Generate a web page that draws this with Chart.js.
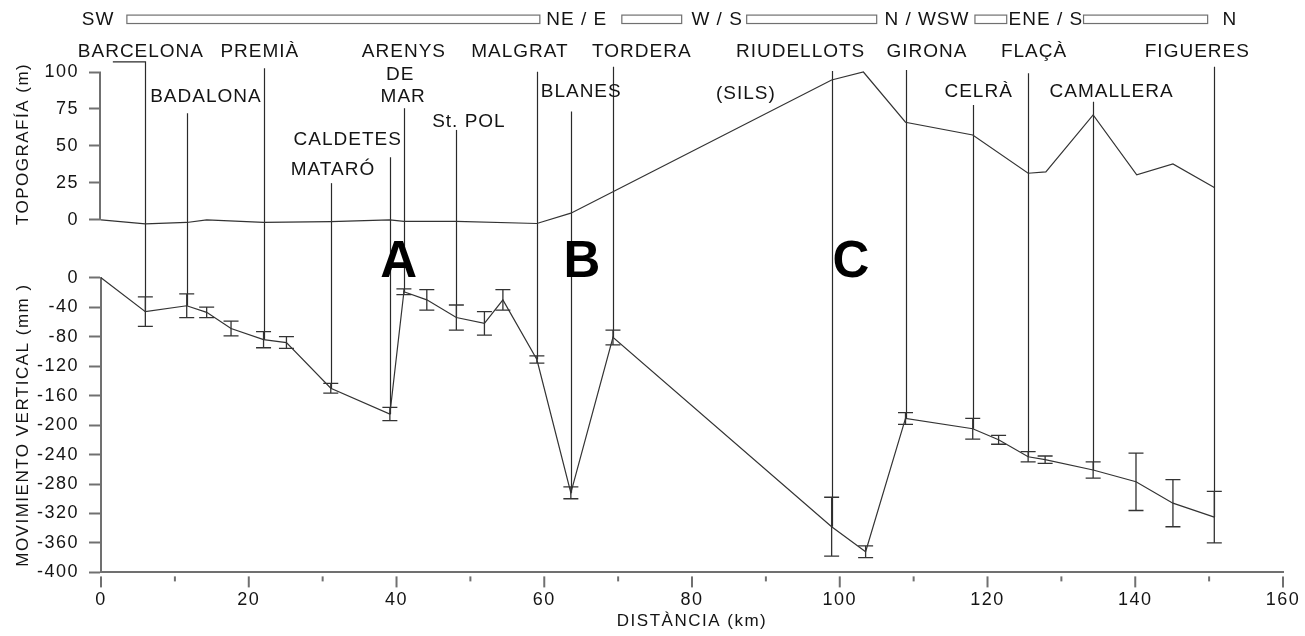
<!DOCTYPE html>
<html>
<head>
<meta charset="utf-8">
<script src="https://cdn.jsdelivr.net/npm/chart.js@4/dist/chart.umd.min.js"></script>
<style>
html,body{margin:0;padding:0;background:#fff;}
#wrap{width:1305px;height:636px;}
</style>
</head>
<body>
<div id="wrap"><canvas id="c" width="1305" height="636"></canvas></div>
<script>
// ---------------- DATA ----------------
// Topography profile (km, m)
const topoKm = [0, 6.0, 11.6, 14.3, 22.0, 31.1, 39.1, 41.0, 48.1, 59.0, 63.6, 69.3, 98.9, 103.2, 108.9, 118.0, 125.5, 127.9, 134.3, 140.2, 145.1, 150.7];
const topoM  = [0, -2.7, -1.8, 0, -1.8, -1.2, 0, -1.0, -1.0, -2.5, 4.5, 19, 94.6, 100, 66, 57.4, 31.5, 32.4, 71, 30.4, 37.8, 21.8];

// Vertical movement (km, mm, error mm)
const movKm  = [0, 6.0, 11.6, 14.3, 17.6, 22.0, 25.1, 31.1, 39.1, 41.0, 44.1, 48.1, 51.9, 54.4, 59.0, 63.6, 69.3, 98.9, 103.5, 108.9, 118.0, 121.5, 125.5, 127.8, 134.3, 140.1, 145.1, 150.7];
const movMm  = [0, -46, -38, -47, -69, -84, -88, -150, -185, -19, -30, -54, -62, -30, -111, -292, -81, -338, -372, -191, -205, -220, -243, -247, -261, -277, -306, -325];
const movErr = [0, 20, 16, 7, 10, 11, 8, 6.5, 9, 4, 14, 17, 16, 14, 5, 8, 10, 40, 8, 8, 14, 6, 7, 5, 11, 39, 32, 35];

// Places: index of the movement point each marker line reaches, and the top of the marker line (m)
const placeNames      = ['BARCELONA','BADALONA','PREMIÀ','MATARÓ','CALDETES','ARENYS DE MAR','St. POL','MALGRAT','BLANES','TORDERA','RIUDELLOTS','GIRONA','CELRÀ','FLAÇÀ','CAMALLERA','FIGUERES'];
const placePointIndex = [1, 2, 5, 7, 8, 9, 11, 14, 15, 16, 17, 19, 20, 22, 24, 27];
const placeLineTopM   = [106.8, 72.1, 102.5, 24.8, 42.4, 75.5, 60.8, 100.2, 73.2, 103.6, 100.7, 101.4, 77.7, 99.1, 79.9, 103.6];
const barcelonaHookKm = 1.6;

// Text annotations (label text, km, m)
const labelTexts = ['BARCELONA','BADALONA','PREMIÀ','MATARÓ','CALDETES','ARENYS','DE','MAR','St. POL','MALGRAT','BLANES','TORDERA','(SILS)','RIUDELLOTS','GIRONA','CELRÀ','FLAÇÀ','CAMALLERA','FIGUERES'];
const labelKm    = [5.4, 14.2, 21.5, 31.4, 33.4, 41.0, 40.5, 40.9, 49.8, 56.7, 65.0, 73.2, 87.3, 94.7, 111.8, 118.8, 126.3, 136.8, 148.4];
const labelM     = [113.5, 83.1, 113.5, 33.8, 54.1, 113.5, 98.0, 83.1, 66.2, 113.5, 86.5, 113.5, 85.1, 113.5, 113.5, 86.5, 113.5, 86.5, 113.5];

// Profile direction strip
const dirLabels     = ['SW', 'NE / E', 'W / S', 'N / WSW', 'ENE / S', 'N'];
const dirLabelKm    = [-0.4, 64.4, 83.4, 111.8, 127.9, 152.8];
const dirBarStartKm = [3.5, 70.5, 87.4, 118.3, 133.0];
const dirBarEndKm   = [59.4, 78.6, 105.0, 122.6, 149.8];

// Sector letters
const sectorLetters = ['A', 'B', 'C'];
const sectorKm      = [40.3, 65.1, 101.5];

// Axis ticks
const xTicks    = [0, 20, 40, 60, 80, 100, 120, 140, 160];
const xMinor    = [10, 30, 50, 70, 90, 110, 130, 150];
const yTopTicks = [0, 25, 50, 75, 100];
const yBotTicks = [0, -40, -80, -120, -160, -200, -240, -280, -320, -360, -400];

// ---------------- STYLE ----------------
const FONT = '"Liberation Sans", Arial, sans-serif';
const AX = '#707070';
const INK = '#141414';
const LINE = '#333333';

const deco = {
  id: 'deco',
  beforeDraw(chart) {
    chart.ctx.letterSpacing = '1.5px';
  },
  beforeDatasetsDraw(chart) {
    const {ctx, chartArea, scales: {x, yTop, yBot}} = chart;
    ctx.save();
    ctx.letterSpacing = '0px';
    // top panel axis line
    ctx.strokeStyle = AX; ctx.lineWidth = 2;
    ctx.beginPath();
    ctx.moveTo(chartArea.left - 1, yTop.getPixelForValue(100));
    ctx.lineTo(chartArea.left - 1, yTop.getPixelForValue(0));
    ctx.stroke();
    // x ticks (major + minor), slightly detached from the axis line
    const yb = chartArea.bottom;
    ctx.lineWidth = 2;
    xTicks.forEach(v => { const p = x.getPixelForValue(v); ctx.beginPath(); ctx.moveTo(p, yb + 4); ctx.lineTo(p, yb + 15); ctx.stroke(); });
    xMinor.forEach(v => { const p = x.getPixelForValue(v); ctx.beginPath(); ctx.moveTo(p, yb + 4); ctx.lineTo(p, yb + 9); ctx.stroke(); });
    // place marker lines
    ctx.strokeStyle = '#2a2a2a'; ctx.lineWidth = 1.2;
    placePointIndex.forEach((idx, i) => {
      const px = Math.round(x.getPixelForValue(movKm[idx])) + 0.5;
      const top = yTop.getPixelForValue(placeLineTopM[i]);
      const bot = yBot.getPixelForValue(movMm[idx]);
      ctx.beginPath();
      if (i === 0) ctx.moveTo(x.getPixelForValue(barcelonaHookKm), top); else ctx.moveTo(px, top);
      ctx.lineTo(px, top);
      ctx.lineTo(px, bot);
      ctx.stroke();
    });
    ctx.restore();
  },
  afterDatasetsDraw(chart) {
    const {ctx, scales: {x, yTop, yBot}} = chart;
    ctx.save();
    ctx.letterSpacing = '0px';
    // error bars
    ctx.strokeStyle = LINE; ctx.lineWidth = 1.3;
    movKm.forEach((km, i) => {
      const e = movErr[i];
      if (!e) return;
      const px = x.getPixelForValue(km);
      const y1 = yBot.getPixelForValue(movMm[i] + e);
      const y2 = yBot.getPixelForValue(movMm[i] - e);
      ctx.beginPath();
      ctx.moveTo(px, y1); ctx.lineTo(px, y2);
      ctx.moveTo(px - 7.5, y1); ctx.lineTo(px + 7.5, y1);
      ctx.moveTo(px - 7.5, y2); ctx.lineTo(px + 7.5, y2);
      ctx.stroke();
    });
    // place labels
    ctx.fillStyle = INK;
    ctx.textAlign = 'center'; ctx.textBaseline = 'middle';
    ctx.font = '19px ' + FONT;
    ctx.letterSpacing = '1px';
    labelTexts.forEach((t, i) => ctx.fillText(t, x.getPixelForValue(labelKm[i]), yTop.getPixelForValue(labelM[i])));
    // direction strip
    const dirY = yTop.getPixelForValue(135.1);
    dirLabels.forEach((t, i) => ctx.fillText(t, x.getPixelForValue(dirLabelKm[i]), dirY));
    ctx.strokeStyle = '#707070'; ctx.lineWidth = 1.2;
    dirBarStartKm.forEach((s, i) => {
      const a = x.getPixelForValue(s), b = x.getPixelForValue(dirBarEndKm[i]);
      const t = yTop.getPixelForValue(138.5), bt = yTop.getPixelForValue(132.8);
      ctx.strokeRect(a, t, b - a, bt - t);
    });
    // sector letters
    ctx.letterSpacing = '0px';
    ctx.font = 'bold 51px ' + FONT;
    ctx.fillStyle = '#000';
    sectorLetters.forEach((t, i) => ctx.fillText(t, x.getPixelForValue(sectorKm[i]), yTop.getPixelForValue(-29)));
    // axis titles
    ctx.font = '17px ' + FONT;
    ctx.fillStyle = INK;
    ctx.letterSpacing = '1.5px';
    const ca = chart.chartArea;
    ctx.fillText('DISTÀNCIA (km)', (ca.left + ca.right) / 2, ca.bottom + 49);
    const titleV = (text, cy) => {
      ctx.save(); ctx.translate(23, cy); ctx.rotate(-Math.PI / 2); ctx.fillText(text, 0, 0); ctx.restore();
    };
    titleV('TOPOGRAFÍA (m)', (yTop.getPixelForValue(100) + yTop.getPixelForValue(0)) / 2 - 2);
    titleV('MOVIMIENTO VERTICAL (mm )', (yBot.getPixelForValue(0) + yBot.getPixelForValue(-400)) / 2);
    ctx.restore();
  }
};

const tickFont = {family: FONT, size: 18};

new Chart(document.getElementById('c'), {
  type: 'line',
  data: {
    datasets: [
      {
        label: 'Topografía',
        data: topoKm.map((k, i) => ({x: k, y: topoM[i]})),
        yAxisID: 'yTop',
        borderColor: LINE, borderWidth: 1.2, pointRadius: 0, tension: 0, clip: false, fill: false
      },
      {
        label: 'Movimiento vertical',
        data: movKm.map((k, i) => ({x: k, y: movMm[i]})),
        yAxisID: 'yBot',
        borderColor: LINE, borderWidth: 1.2, pointRadius: 0, tension: 0, clip: false, fill: false
      }
    ]
  },
  options: {
    responsive: false,
    animation: false,
    devicePixelRatio: 1,
    layout: {padding: {left: 33, top: 72, right: 22, bottom: 22}},
    plugins: {legend: {display: false}, tooltip: {enabled: false}},
    scales: {
      x: {
        type: 'linear', min: 0, max: 160,
        afterBuildTicks: s => { s.ticks = xTicks.map(v => ({value: v})); },
        ticks: {font: tickFont, color: INK, padding: 3, maxRotation: 0, autoSkip: false},
        grid: {drawOnChartArea: false, drawTicks: true, tickLength: 14, tickColor: 'rgba(0,0,0,0)'},
        border: {display: true, color: AX, width: 2}
      },
      yBot: {
        type: 'linear', position: 'left', stack: 'v', stackWeight: 295,
        min: -400, max: 0,
        afterBuildTicks: s => { s.ticks = yBotTicks.map(v => ({value: v})); },
        ticks: {font: tickFont, color: INK, padding: 10, autoSkip: false},
        grid: {drawOnChartArea: false, drawTicks: true, tickLength: 12, tickColor: AX, tickWidth: 2},
        border: {display: true, color: AX, width: 2}
      },
      yTop: {
        type: 'linear', position: 'left', stack: 'v', stackWeight: 206,
        min: -39.2, max: 100,
        afterBuildTicks: s => { s.ticks = yTopTicks.map(v => ({value: v})); },
        ticks: {font: tickFont, color: INK, padding: 10, autoSkip: false},
        grid: {drawOnChartArea: false, drawTicks: true, tickLength: 12, tickColor: AX, tickWidth: 2},
        border: {display: false}
      }
    }
  },
  plugins: [deco]
});
</script>
</body>
</html>
